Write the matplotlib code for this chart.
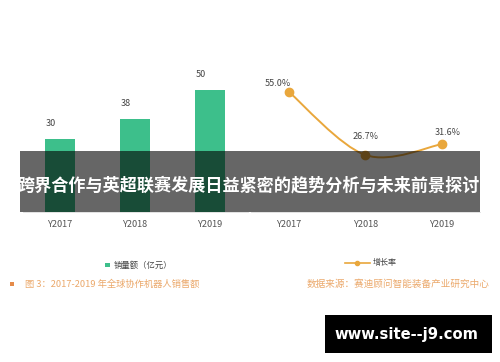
import matplotlib
matplotlib.use("Agg")
import matplotlib.pyplot as plt
from matplotlib.path import Path
from matplotlib.patches import PathPatch, Rectangle
from matplotlib.lines import Line2D

plt.rcParams['font.family'] = ['Noto Sans CJK SC', 'DejaVu Sans']

categories = ["Y2017", "Y2018", "Y2019"]
sales = [30, 38, 50]
growth = [55.0, 26.7, 31.6]
growth_labels = ["55.0%", "26.7%", "31.6%"]
legend_sales = "销量额（亿元）"
legend_growth = "增长率"
caption_left = "图 3：2017-2019 年全球协作机器人销售额"
caption_right = "数据来源：赛迪顾问智能装备产业研究中心"
overlay_title = "跨界合作与英超联赛发展日益紧密的趋势分析与未来前景探讨"
watermark = "www.site--j9.com"

W, H = 500, 362
fig = plt.figure(figsize=(5, 3.62), dpi=100)
fig.patch.set_facecolor("white")

def fx(px):
    return px / W

def fy(py):
    return 1 - py / H

GREEN = "#3DBF8B"
ORANGE = "#E9A73C"
GRAY_TXT = "#555555"

# Left bar chart
ax1 = fig.add_axes([fx(22.5), fy(212), fx(225), (212 - 60) / H])
x = list(range(len(categories)))
ax1.bar(x, sales, width=0.39, color=GREEN)
for xi, v in zip(x, sales):
    ax1.text(xi - 0.12, v + 4.5, str(v), ha="center", va="bottom", fontsize=6.5, color="#444444")
ax1.set_xlim(-0.5, 2.5)
ax1.set_ylim(0, 62.3)
ax1.set_xticks(x)
ax1.set_xticklabels(categories, fontsize=6.6, color=GRAY_TXT)
ax1.tick_params(axis="x", length=0, pad=5.5)
ax1.set_yticks([])
for s in ax1.spines.values():
    s.set_visible(False)
ax1.spines["bottom"].set_visible(True)
ax1.spines["bottom"].set_color("#dddddd")
ax1.spines["bottom"].set_linewidth(0.6)
ax1.patch.set_alpha(0)

# Right line chart (smooth curve)
ax2 = fig.add_axes([fx(250.75), fy(212), fx(229.5), (212 - 60) / H])
xs = list(range(len(growth)))
pts = list(zip(xs, growth))
verts = [pts[0]]
codes = [Path.MOVETO]
n = len(pts)
for i in range(n - 1):
    p0 = pts[i - 1] if i > 0 else pts[i]
    p1 = pts[i]
    p2 = pts[i + 1]
    p3 = pts[i + 2] if i + 2 < n else pts[i + 1]
    c1 = (p1[0] + (p2[0] - p0[0]) / 6, p1[1] + (p2[1] - p0[1]) / 6)
    c2 = (p2[0] - (p3[0] - p1[0]) / 6, p2[1] - (p3[1] - p1[1]) / 6)
    verts += [c1, c2, p2]
    codes += [Path.CURVE4] * 3
ax2.add_patch(PathPatch(Path(verts, codes), facecolor="none", edgecolor=ORANGE, lw=1.4))
ax2.plot(xs, growth, "o", color=ORANGE, markersize=6, zorder=3)
offsets = [(-0.15, 1.6), (0.0, 6.3), (0.08, 3.4)]
for xi, v, lab, off in zip(xs, growth, growth_labels, offsets):
    ax2.text(xi + off[0], v + off[1], lab, ha="center", va="bottom", fontsize=6.5, color="#444444")
ax2.set_xlim(-0.5, 2.5)
ax2.set_ylim(1.1, 69.4)
ax2.set_xticks(xs)
ax2.set_xticklabels(categories, fontsize=6.6, color=GRAY_TXT)
ax2.tick_params(axis="x", length=0, pad=5.5)
ax2.set_yticks([])
for s in ax2.spines.values():
    s.set_visible(False)
ax2.spines["bottom"].set_visible(True)
ax2.spines["bottom"].set_color("#dddddd")
ax2.spines["bottom"].set_linewidth(0.6)
ax2.patch.set_alpha(0)

# Overlay band with title
fig.patches.append(Rectangle((fx(20), fy(212)), fx(460), (212 - 151) / H,
                             transform=fig.transFigure, facecolor="black", alpha=0.6,
                             edgecolor="none", zorder=5))
fig.text(fx(249), fy(185), overlay_title, ha="center", va="center", fontsize=12.3,
         fontweight="bold", color="white", zorder=6)

# Legends
fig.patches.append(Rectangle((fx(105), fy(267)), fx(4.5), 4.5 / H, transform=fig.transFigure,
                             facecolor=GREEN, edgecolor="none"))
fig.text(fx(114), fy(265), legend_sales, ha="left", va="center", fontsize=6.0, color="#444444")
fig.add_artist(Line2D([fx(345), fx(370)], [fy(263), fy(263)], transform=fig.transFigure,
                      color=ORANGE, lw=1.2))
fig.add_artist(Line2D([fx(357)], [fy(263)], transform=fig.transFigure, marker="o",
                      markersize=3, color=ORANGE))
fig.text(fx(373), fy(263), legend_growth, ha="left", va="center", fontsize=5.8, color="#444444")

# Captions
CAP = "#EBA86A"
fig.patches.append(Rectangle((fx(10), fy(286)), fx(4), 4 / H, transform=fig.transFigure,
                             facecolor="#E58B4A", edgecolor="none"))
fig.text(fx(25), fy(284), caption_left, ha="left", va="center", fontsize=6.7, color=CAP)
fig.text(fx(307), fy(284), caption_right, ha="left", va="center", fontsize=6.9, color=CAP)

# Watermark box
fig.patches.append(Rectangle((fx(325), fy(353)), fx(167), (353 - 315) / H,
                             transform=fig.transFigure, facecolor="black", edgecolor="none",
                             zorder=5))
fig.text(fx(406), fy(334), watermark, ha="center", va="center", fontsize=10.6,
         fontweight="bold", color="white", family="DejaVu Sans", zorder=6)

fig.savefig("out.png", dpi=100)
